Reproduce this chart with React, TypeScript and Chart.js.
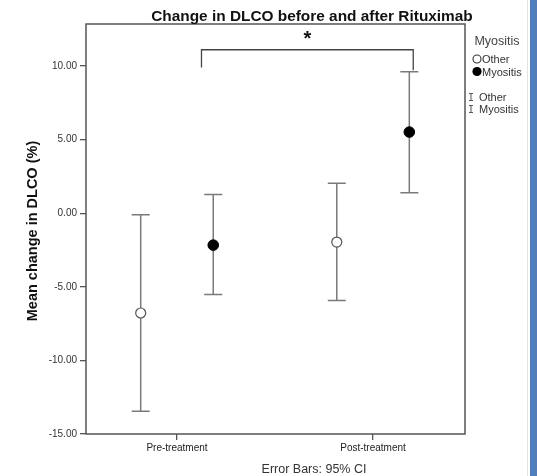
import React, { useEffect, useRef } from "react";
import { Chart, registerables } from "chart.js";

Chart.register(...registerables);

const categories = ["Pre-treatment", "Post-treatment"];
const groupNames = ["Other", "Myositis"];
const otherMean = [-6.78, -1.96];
const otherLow = [-13.46, -5.94];
const otherHigh = [-0.11, 2.03];
const myoMean = [-2.17, 5.51];
const myoLow = [-5.53, 1.38];
const myoHigh = [1.27, 9.6];
const yTicks = [-15, -10, -5, 0, 5, 10];
const bracketLevel = 11.1;
const bracketLegs = [9.9, 9.7];

const FONT = "'Liberation Sans', Arial, sans-serif";
const GROUP_SHIFT = 0.185;

const customPlugin = {
  id: "custom",
  beforeDraw(chart: any) {
    const { ctx, width, height } = chart;
    ctx.save();
    ctx.fillStyle = "#ffffff";
    ctx.fillRect(0, 0, width, height);
    ctx.restore();
  },
  beforeDatasetsDraw(chart: any) {
    const { ctx } = chart;
    const y = chart.scales.y;
    ctx.save();
    ctx.strokeStyle = "#7a7a7a";
    ctx.lineWidth = 1.5;
    chart.data.datasets.forEach((ds: any, di: number) => {
      const meta = chart.getDatasetMeta(di);
      meta.data.forEach((pt: any, i: number) => {
        const px = pt.x;
        const lo = y.getPixelForValue(ds.errLow[i]);
        const hi = y.getPixelForValue(ds.errHigh[i]);
        const cap = 9;
        ctx.beginPath();
        ctx.moveTo(px, lo);
        ctx.lineTo(px, hi);
        ctx.moveTo(px - cap, lo);
        ctx.lineTo(px + cap, lo);
        ctx.moveTo(px - cap, hi);
        ctx.lineTo(px + cap, hi);
        ctx.stroke();
      });
    });
    ctx.restore();
  },
  afterDraw(chart: any) {
    const { ctx, chartArea: a, width, height } = chart;
    const x = chart.scales.x;
    const y = chart.scales.y;
    ctx.save();
    // frame
    ctx.strokeStyle = "#555";
    ctx.lineWidth = 1.5;
    ctx.strokeRect(a.left, a.top, a.right - a.left, a.bottom - a.top);

    // title
    ctx.fillStyle = "#111";
    ctx.font = `bold 15.4px ${FONT}`;
    ctx.textAlign = "center";
    ctx.textBaseline = "alphabetic";
    ctx.fillText("Change in DLCO before and after Rituximab", 312, 21);

    // y title
    ctx.save();
    ctx.translate(37, (a.top + a.bottom) / 2 + 2);
    ctx.rotate(-Math.PI / 2);
    ctx.font = `bold 14.5px ${FONT}`;
    ctx.fillStyle = "#111";
    ctx.textAlign = "center";
    ctx.fillText("Mean change in DLCO (%)", 0, 0);
    ctx.restore();

    // footnote
    ctx.font = `12.5px ${FONT}`;
    ctx.fillStyle = "#333";
    ctx.textAlign = "center";
    ctx.fillText("Error Bars: 95% CI", 314, 473);

    // bracket
    const bl = x.getPixelForValue(0 + GROUP_SHIFT - 0.06);
    const br = x.getPixelForValue(1 + GROUP_SHIFT + 0.02);
    const by = y.getPixelForValue(bracketLevel);
    ctx.strokeStyle = "#444";
    ctx.lineWidth = 1.3;
    ctx.beginPath();
    ctx.moveTo(bl, y.getPixelForValue(bracketLegs[0]));
    ctx.lineTo(bl, by);
    ctx.lineTo(br, by);
    ctx.lineTo(br, y.getPixelForValue(bracketLegs[1]));
    ctx.stroke();
    ctx.font = `bold 20px ${FONT}`;
    ctx.fillStyle = "#111";
    ctx.textAlign = "center";
    ctx.fillText("*", (bl + br) / 2, by - 5);

    // legend
    ctx.font = `12.5px ${FONT}`;
    ctx.fillStyle = "#444";
    ctx.textAlign = "center";
    ctx.fillText("Myositis", 497, 45);
    ctx.textAlign = "left";
    ctx.font = `11px ${FONT}`;
    const cx = 477;
    // open circle
    ctx.beginPath();
    ctx.arc(cx, 59, 4, 0, Math.PI * 2);
    ctx.fillStyle = "#fff";
    ctx.fill();
    ctx.strokeStyle = "#333";
    ctx.lineWidth = 1.1;
    ctx.stroke();
    ctx.fillStyle = "#333";
    ctx.fillText(groupNames[0], 482, 63);
    ctx.beginPath();
    ctx.arc(cx, 71.5, 4.6, 0, Math.PI * 2);
    ctx.fillStyle = "#000";
    ctx.fill();
    ctx.fillStyle = "#333";
    ctx.fillText(groupNames[1], 482, 75.5);
    // error bar legend items
    const ix = 471;
    const ibeam = (cy: number) => {
      ctx.strokeStyle = "#555";
      ctx.lineWidth = 1;
      ctx.beginPath();
      ctx.moveTo(ix - 2, cy - 3.5);
      ctx.lineTo(ix + 2, cy - 3.5);
      ctx.moveTo(ix, cy - 3.5);
      ctx.lineTo(ix, cy + 3.5);
      ctx.moveTo(ix - 2, cy + 3.5);
      ctx.lineTo(ix + 2, cy + 3.5);
      ctx.stroke();
    };
    ibeam(97);
    ctx.fillText(groupNames[0], 479, 101);
    ibeam(109);
    ctx.fillText(groupNames[1], 479, 113);

    // right edge decoration
    ctx.fillStyle = "#e4e4e4";
    ctx.fillRect(width - 10, 0, 1, height);
    ctx.fillStyle = "#4f7fbd";
    ctx.fillRect(width - 7, 0, 7, height);
    ctx.restore();
  },
};

export default function App() {
  const ref = useRef<HTMLCanvasElement | null>(null);
  useEffect(() => {
    if (!ref.current) return;
    const chart = new Chart(ref.current, {
      type: "scatter",
      data: {
        datasets: [
          {
            label: groupNames[0],
            data: categories.map((_, i) => ({ x: i - GROUP_SHIFT, y: otherMean[i] })),
            errLow: otherLow,
            errHigh: otherHigh,
            pointRadius: 5,
            pointBackgroundColor: "#ffffff",
            pointBorderColor: "#555",
            pointBorderWidth: 1.2,
          } as any,
          {
            label: groupNames[1],
            data: categories.map((_, i) => ({ x: i + GROUP_SHIFT, y: myoMean[i] })),
            errLow: myoLow,
            errHigh: myoHigh,
            pointRadius: 5.3,
            pointBackgroundColor: "#000",
            pointBorderColor: "#000",
            pointBorderWidth: 1,
          } as any,
        ],
      },
      options: {
        responsive: false,
        animation: false,
        devicePixelRatio: 1,
        layout: { padding: { top: 24, right: 72, left: 0, bottom: 0 } },
        plugins: {
          legend: { display: false },
          title: { display: false },
          tooltip: { enabled: false },
        },
        scales: {
          x: {
            type: "linear",
            min: -0.464,
            max: 1.469,
            afterBuildTicks: (s: any) => {
              s.ticks = categories.map((_, i) => ({ value: i }));
            },
            afterFit: (s: any) => {
              s.height = 42;
            },
            ticks: {
              callback: (v: any) => categories[Number(v)] ?? "",
              font: { size: 10, family: FONT },
              color: "#222",
              padding: 2,
              maxRotation: 0,
              autoSkip: false,
            },
            grid: { drawOnChartArea: false, drawTicks: true, tickLength: 6, color: "#555", lineWidth: 1.3 },
            border: { display: false },
          },
          y: {
            type: "linear",
            min: -15,
            max: 12.85,
            afterBuildTicks: (s: any) => {
              s.ticks = yTicks.map((v) => ({ value: v }));
            },
            afterFit: (s: any) => {
              s.width = 86;
            },
            ticks: {
              callback: (v: any) => Number(v).toFixed(2),
              font: { size: 10, family: FONT },
              color: "#333",
              padding: 3,
            },
            grid: { drawOnChartArea: false, drawTicks: true, tickLength: 6, color: "#555", lineWidth: 1.3 },
            border: { display: false },
          },
        },
      } as any,
      plugins: [customPlugin],
    });
    return () => chart.destroy();
  }, []);
  return (
    <div style={{ position: "absolute", left: 0, top: 0, width: 537, height: 476 }}>
      <canvas ref={ref} width={537} height={476} style={{ display: "block", width: 537, height: 476 }} />
    </div>
  );
}
